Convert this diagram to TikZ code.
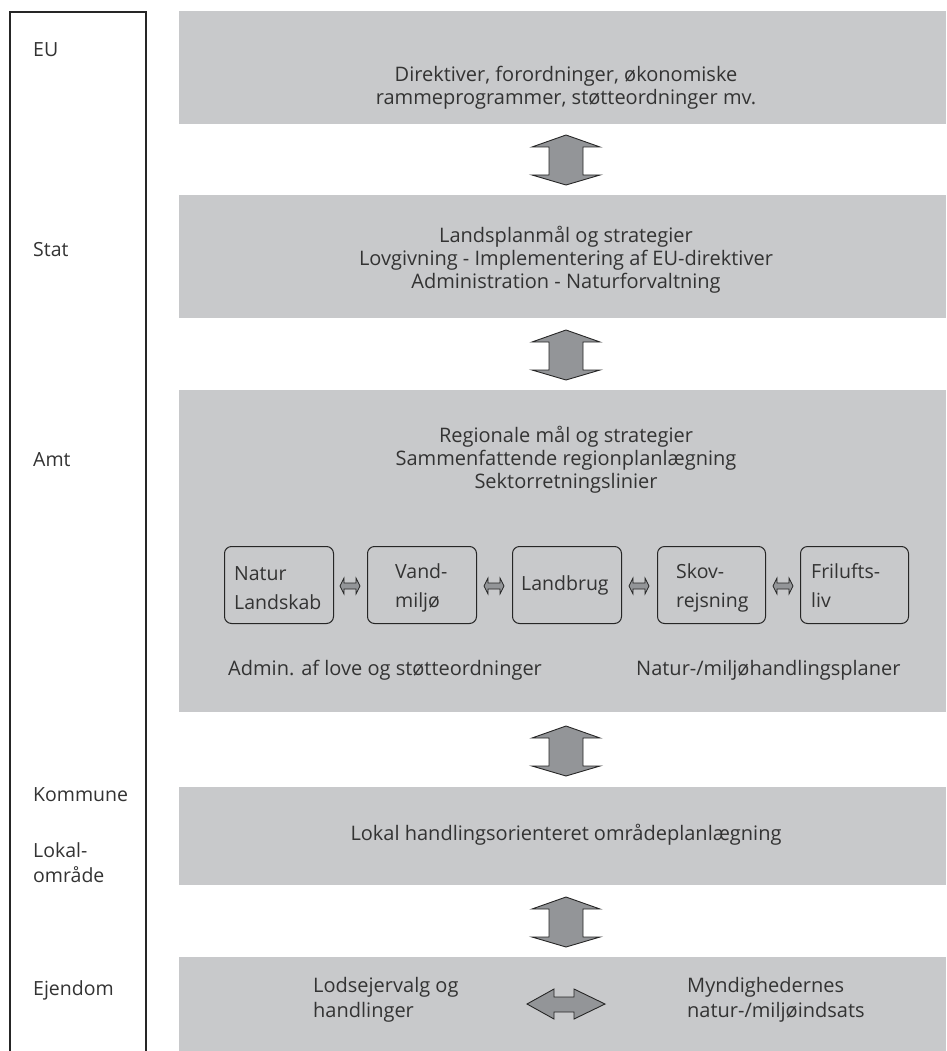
\documentclass[tikz,border=0pt]{standalone}
\usepackage{fontspec}
\setmainfont{Open Sans}
\definecolor{boxgray}{HTML}{C8C9CB}
\definecolor{arrgray}{HTML}{939598}
\definecolor{txt}{HTML}{333333}
\begin{document}
\begin{tikzpicture}[x=1pt,y=-1pt,
  graybox/.style={fill=boxgray,draw=none,anchor=north west,inner sep=0pt},
  maintext/.style={text=txt,align=center,inner sep=0pt,font=\fontsize{20}{23}\selectfont},
  sidelabel/.style={text=txt,anchor=west,align=left,inner sep=0pt,font=\fontsize{19.5}{25}\selectfont},
  smallbox/.style={draw=black!85,line width=1pt,rounded corners=7pt,fill=boxgray,anchor=north west,inner sep=0pt,minimum height=77pt},
  boxtext/.style={text=txt,align=left,anchor=west,inner sep=0pt,font=\fontsize{19.5}{29}\selectfont},
  arrowshape/.style={fill=arrgray,draw=black!85,line width=0.9pt,line join=miter},
  vertarrow/.pic={\path[arrowshape] (0,-25) -- (-34,-13) -- (-17,-13) -- (-17,15) -- (-34,15) -- (0,25) -- (34,15) -- (17,15) -- (17,-13) -- (34,-13) -- cycle;},
  horarrow/.pic={\path[arrowshape] (-39,0) -- (-12,-15) -- (-12,-7) -- (8,-7) -- (8,-15) -- (39,0) -- (8,15) -- (8,8) -- (-12,8) -- (-12,15) -- cycle;},
  smallarrow/.pic={\path[arrowshape,line width=0.7pt] (-10,0) -- (-6,-8) -- (-6,-3) -- (6,-3) -- (6,-8) -- (10,0) -- (6,8) -- (6,3) -- (-6,3) -- (-6,8) -- cycle;}
]
\useasboundingbox (0,0) rectangle (946,1051);
% left frame
\coordinate (fl) at (10,1051);
\coordinate (fr) at (146,1051);
\draw[line width=2pt,draw=black!85,line join=miter] (fl) -- (10,12) -- (146,12) -- (fr);
% side labels
\node[sidelabel] (lEU) at (33,50) {EU};
\node[sidelabel] (lStat) at (33,250) {Stat};
\node[sidelabel] (lAmt) at (33,460) {Amt};
\node[sidelabel] (lKom) at (33,795) {Kommune};
\node[sidelabel] (lLok) at (33,863) {Lokal-\\område};
\node[sidelabel] (lEj) at (33,990) {Ejendom};
% gray boxes
\node[graybox,minimum width=767pt,minimum height=113pt] (bEU) at (179,11) {};
\node[graybox,minimum width=767pt,minimum height=123pt] (bStat) at (179,195) {};
\node[graybox,minimum width=767pt,minimum height=322pt] (bAmt) at (179,390) {};
\node[graybox,minimum width=767pt,minimum height=98pt] (bKom) at (179,787) {};
\node[graybox,minimum width=767pt,minimum height=94pt] (bEj) at (179,957) {};
% texts
\node[maintext] (tEU) at (566,88) {Direktiver, forordninger, økonomiske\\rammeprogrammer, støtteordninger mv.};
\node[maintext] (tStat) at (566,260) {Landsplanmål og strategier\\Lovgivning - Implementering af EU-direktiver\\Administration - Naturforvaltning};
\node[maintext] (tAmt) at (566,460) {Regionale mål og strategier\\Sammenfattende regionplanlægning\\Sektorretningslinier};
\node[maintext] (tKom) at (566,835) {Lokal handlingsorienteret områdeplanlægning};
\node[maintext,anchor=west,align=left,font=\fontsize{20}{25}\selectfont] (tEj1) at (313,1000) {Lodsejervalg og\\handlinger};
\node[maintext,anchor=west,align=left,font=\fontsize{20}{25}\selectfont] (tEj2) at (687,1000) {Myndighedernes\\natur-/miljøindsats};
\node[maintext,anchor=west] (tAdm) at (228,670) {Admin. af love og støtteordninger};
\node[maintext,anchor=west] (tNat) at (636,670) {Natur-/miljøhandlingsplaner};
% vertical arrows
\pic at (566,160) {vertarrow};
\pic at (566,355) {vertarrow};
\pic at (566,751) {vertarrow};
\pic at (566,922) {vertarrow};
\pic at (566,1004) {horarrow};
% small boxes
\node[smallbox,minimum width=109pt] (s1) at (224,546) {};
\node[smallbox,minimum width=109pt] (s2) at (367,546) {};
\node[smallbox,minimum width=109pt] (s3) at (512,546) {};
\node[smallbox,minimum width=108pt] (s4) at (657,546) {};
\node[smallbox,minimum width=108pt] (s5) at (800,546) {};
\node[boxtext] (t1) at (234,588) {Natur\\Landskab};
\node[boxtext] (t2) at (395,588) {Vand-\\miljø};
\node[boxtext] (t3) at (521,585) {Landbrug};
\node[boxtext] (t4) at (676,588) {Skov-\\rejsning};
\node[boxtext] (t5) at (811,586) {Frilufts-\\liv};
\pic at (350,586) {smallarrow};
\pic at (494,586) {smallarrow};
\pic at (639,586) {smallarrow};
\pic at (783,586) {smallarrow};
\end{tikzpicture}
\end{document}
